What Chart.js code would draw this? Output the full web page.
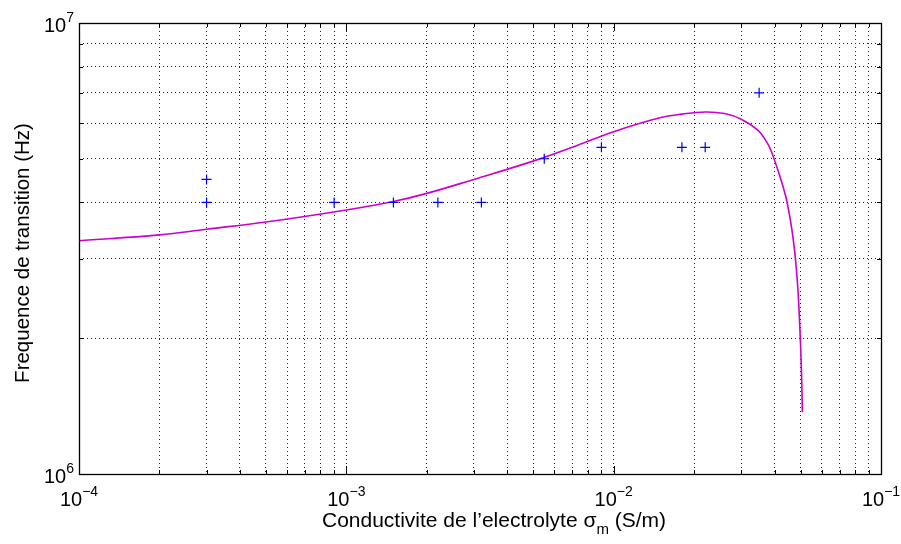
<!DOCTYPE html>
<html>
<head>
<meta charset="utf-8">
<script src="https://cdn.jsdelivr.net/npm/chart.js@4"></script>
<style>
  html, body { margin: 0; padding: 0; background: #fff; }
  #wrap { width: 901px; height: 544px; }
</style>
</head>
<body>
<div id="wrap"><canvas id="chart" width="901" height="544"></canvas></div>
<script>
// measured points (blue +)
const measSigma = [3e-4, 3e-4, 9e-4, 1.5e-3, 2.2e-3, 3.2e-3, 5.5e-3, 9e-3, 1.8e-2, 2.2e-2, 3.5e-2];
const measFreq = [4.5e6, 4.0e6, 4.0e6, 4.0e6, 4.0e6, 4.0e6, 5.0e6, 5.3e6, 5.3e6, 5.3e6, 7.0e6];

// model curve (magenta)
const modelSigma = [1e-4, 2e-4, 3e-4, 5e-4, 1e-3, 1.5e-3, 2e-3, 3e-3, 5e-3, 7e-3, 1e-2, 1.5e-2, 1.8e-2,
  2.2e-2, 2.6e-2, 3e-2, 3.46e-2, 3.7e-2, 3.87e-2, 4.19e-2, 4.45e-2, 4.7e-2, 4.87e-2, 4.99e-2, 5.05e-2, 5.08e-2];
const modelFreq = [3.29e6, 3.39e6, 3.49e6, 3.62e6, 3.85e6, 4.02e6, 4.19e6, 4.5e6, 4.94e6, 5.3e6, 5.74e6, 6.17e6, 6.28e6,
  6.35e6, 6.3e6, 6.12e6, 5.79e6, 5.5e6, 5.23e6, 4.56e6, 4.01e6, 3.3e6, 2.65e6, 2.0e6, 1.62e6, 1.37e6];

// decade tick labels (exponents of 10) and grid mantissas
const xDecades = [-4, -3, -2, -1];
const yDecades = [6, 7];
const mantissas = [1, 2, 3, 4, 5, 6, 7, 8, 9];

const xTitle = "Conductivite de l\u2019electrolyte ";
const xTitleSym = "\u03c3";
const xTitleSub = "m";
const xTitleEnd = " (S/m)";
const yTitle = "Frequence de transition (Hz)";

const FONT = '"Liberation Sans", Arial, Helvetica, sans-serif';

function gridValues(decades) {
  const out = [];
  for (let d = decades[0]; d < decades[decades.length - 1]; d++) {
    mantissas.forEach(m => out.push(m * Math.pow(10, d)));
  }
  out.push(Math.pow(10, decades[decades.length - 1]));
  return out;
}

function drawPow(ctx, exp, x, y, align) {
  const big = "20px " + FONT, small = "14px " + FONT;
  const e = exp < 0 ? "\u2212" + Math.abs(exp) : String(exp);
  ctx.font = big;
  const wb = ctx.measureText("10").width;
  ctx.font = small;
  const we = ctx.measureText(e).width;
  const x0 = align === "center" ? x - (wb + we) / 2 : x - (wb + we);
  ctx.textAlign = "left";
  ctx.textBaseline = "alphabetic";
  ctx.font = big;
  ctx.fillText("10", x0, y);
  ctx.font = small;
  ctx.fillText(e, x0 + wb, y - 10);
}

const matlabFrame = {
  id: "matlabFrame",
  afterDraw(chart) {
    const { ctx, chartArea: a, scales } = chart;
    ctx.save();
    ctx.strokeStyle = "#000";
    ctx.lineWidth = 1;
    // inward tick marks on all sides
    ctx.beginPath();
    scales.x.ticks.forEach(t => {
      const px = Math.round(scales.x.getPixelForValue(t.value)) + 0.5;
      const len = Math.abs(Math.log10(t.value) % 1) < 1e-6 ? 8 : 4;
      ctx.moveTo(px, a.bottom); ctx.lineTo(px, a.bottom - len);
      ctx.moveTo(px, a.top); ctx.lineTo(px, a.top + len);
    });
    scales.y.ticks.forEach(t => {
      const py = Math.round(scales.y.getPixelForValue(t.value)) + 0.5;
      const len = Math.abs(Math.log10(t.value) % 1) < 1e-6 ? 8 : 4;
      ctx.moveTo(a.left, py); ctx.lineTo(a.left + len, py);
      ctx.moveTo(a.right, py); ctx.lineTo(a.right - len, py);
    });
    ctx.stroke();
    ctx.lineWidth = 1.3;
    ctx.strokeRect(Math.round(a.left) + 0.5, Math.round(a.top) + 0.5,
      Math.round(a.right - a.left), Math.round(a.bottom - a.top));

    ctx.fillStyle = "#000";
    xDecades.forEach(d => {
      drawPow(ctx, d, scales.x.getPixelForValue(Math.pow(10, d)), a.bottom + 32, "center");
    });
    yDecades.forEach(d => {
      drawPow(ctx, d, a.left - 5, scales.y.getPixelForValue(Math.pow(10, d)) + 9, "right");
    });

    // x title with sigma_m
    const big = "21px " + FONT, small = "15px " + FONT;
    ctx.font = big;
    const w1 = ctx.measureText(xTitle).width;
    const w2 = ctx.measureText(xTitleSym).width;
    const w4 = ctx.measureText(xTitleEnd).width;
    ctx.font = small;
    const w3 = ctx.measureText(xTitleSub).width;
    const x0 = 494 - (w1 + w2 + w3 + w4) / 2;
    const yb = 527;
    ctx.textAlign = "left";
    ctx.font = big;
    ctx.fillText(xTitle, x0, yb);
    ctx.fillText(xTitleSym, x0 + w1, yb);
    ctx.font = small;
    ctx.fillText(xTitleSub, x0 + w1 + w2, yb + 7);
    ctx.font = big;
    ctx.fillText(xTitleEnd, x0 + w1 + w2 + w3, yb);

    // y title
    ctx.translate(29, 253);
    ctx.rotate(-Math.PI / 2);
    ctx.textAlign = "center";
    ctx.font = "20.5px " + FONT;
    ctx.fillText(yTitle, 0, 0);
    ctx.restore();
  }
};

new Chart(document.getElementById("chart").getContext("2d"), {
  type: "scatter",
  data: {
    datasets: [
      {
        label: "mesures",
        data: measSigma.map((s, i) => ({ x: s, y: measFreq[i] })),
        showLine: false,
        pointStyle: "cross",
        pointRadius: 5,
        pointBorderWidth: 1.2,
        borderColor: "#0000ff",
        backgroundColor: "#0000ff"
      },
      {
        label: "modele",
        type: "line",
        data: modelSigma.map((s, i) => ({ x: s, y: modelFreq[i] })),
        borderColor: "#cc00cc",
        borderWidth: 1.6,
        pointRadius: 0,
        fill: false,
        tension: 0.4
      }
    ]
  },
  options: {
    responsive: false,
    animation: false,
    devicePixelRatio: 1,
    layout: { padding: { left: 79, right: 20, top: 23, bottom: 70 } },
    plugins: { legend: { display: false }, tooltip: { enabled: false } },
    scales: {
      x: {
        type: "logarithmic",
        min: 1e-4, max: 1e-1,
        afterBuildTicks: s => { s.ticks = gridValues(xDecades).map(v => ({ value: v })); },
        ticks: { display: false },
        grid: { color: "#222", lineWidth: 1, drawTicks: false },
        border: { display: false, dash: [1, 3] }
      },
      y: {
        type: "logarithmic",
        min: 1e6, max: 1e7,
        afterBuildTicks: s => { s.ticks = gridValues(yDecades).map(v => ({ value: v })); },
        ticks: { display: false },
        grid: { color: "#222", lineWidth: 1, drawTicks: false },
        border: { display: false, dash: [1, 3] }
      }
    }
  },
  plugins: [matlabFrame]
});
</script>
</body>
</html>
